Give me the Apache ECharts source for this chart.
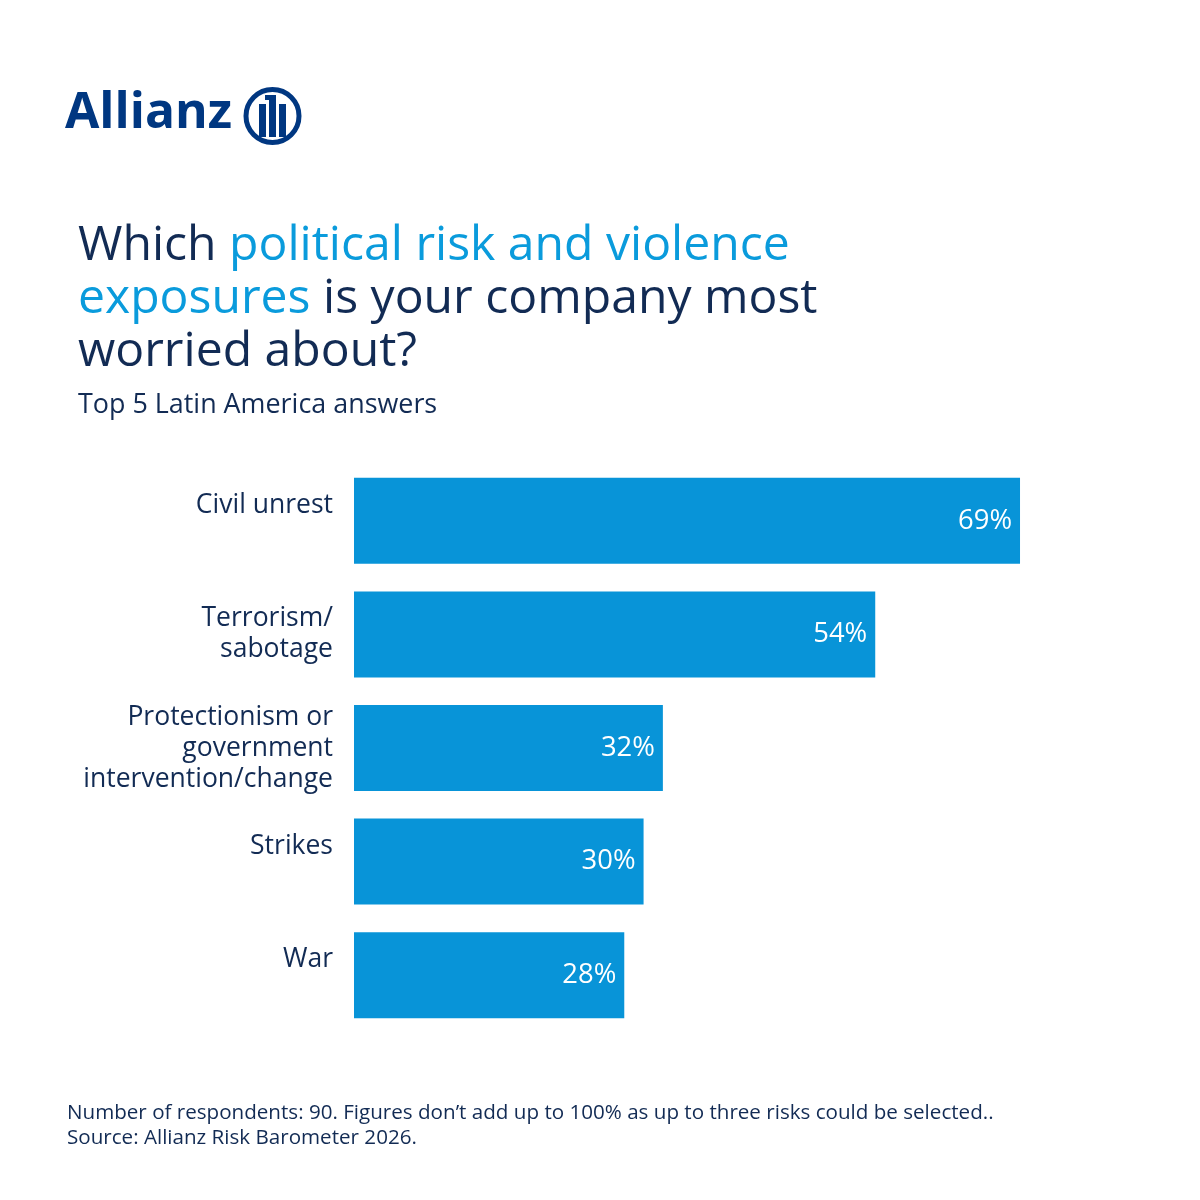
<!DOCTYPE html>
<html>
<head>
<meta charset="utf-8">
<script src="https://cdn.jsdelivr.net/npm/echarts@6/dist/echarts.min.js"></script>
<style>
html,body{margin:0;padding:0;background:#fff;}
#chart{width:1200px;height:1200px;}
</style>
</head>
<body>
<div id="chart"></div>
<script>
const categories = [
  'Civil unrest',
  'Terrorism/\nsabotage',
  'Protectionism or\ngovernment\nintervention/change',
  'Strikes',
  'War'
];
const values = [69, 54, 32, 30, 28];
const footnotes = [
  'Number of respondents: 90. Figures don\u2019t add up to 100% as up to three risks could be selected..',
  'Source: Allianz Risk Barometer 2026.'
];

const NAVY = '#122B54';
const LIGHT = '#0A9BDC';
const BAR = '#0894D8';
const LOGO = '#003781';
const FAM = '"Open Sans"';
const FONT = '"Open Sans", Lato, sans-serif';

// pick a font size so that a text's width matches the reference width
const mctx = document.createElement('canvas').getContext('2d');
function fit(text, weight, target) {
  mctx.font = weight + ' 100px ' + FAM;
  return Math.round(100 * target / mctx.measureText(text).width * 10) / 10;
}
const titleSize = fit('Which political risk and violence', 'normal', 712);
const subSize = fit('Top 5 Latin America answers', 'normal', 359);
const catSize = fit('Civil unrest', 'normal', 137);
const valSize = fit('69%', 'normal', 54);
const footSize = fit(footnotes[0], 'normal', 928);
const logoSize = fit('Allianz', 'bold', 167);

const chart = echarts.init(document.getElementById('chart'), null, {renderer: 'canvas'});

chart.setOption({
  backgroundColor: '#ffffff',
  animation: false,
  title: [
    {
      left: 78,
      top: 220,
      padding: 0,
      text: '{d|Which }{b|political risk and violence}\n{b|exposures}{d| is your company most}\n{d|worried about?}',
      textStyle: {
        fontFamily: FONT,
        fontWeight: 'normal',
        rich: {
          d: {fontSize: titleSize, fontWeight: 'normal', color: NAVY, fontFamily: FONT, lineHeight: 53},
          b: {fontSize: titleSize, fontWeight: 'normal', color: LIGHT, fontFamily: FONT, lineHeight: 53}
        }
      }
    },
    {
      left: 78,
      top: 392,
      padding: 0,
      text: 'Top 5 Latin America answers',
      textStyle: {fontFamily: FONT, fontSize: subSize, fontWeight: 'normal', color: NAVY}
    }
  ],
  grid: {left: 354, top: 464, width: 772.2, height: 568, containLabel: false},
  xAxis: {
    type: 'value', min: 0, max: 80, show: false,
    splitLine: {show: false}
  },
  yAxis: {
    type: 'category',
    data: categories,
    inverse: true,
    axisLine: {show: false},
    axisTick: {show: false},
    axisLabel: {
      margin: 21,
      fontFamily: FONT,
      fontSize: catSize,
      color: NAVY,
      lineHeight: 31,
      formatter: function (v) {
        return v.indexOf('\n') === -1 ? v + '\n ' : v;
      }
    }
  },
  series: [{
    type: 'bar',
    data: values,
    barWidth: 86,
    itemStyle: {color: BAR},
    label: {
      show: true,
      position: 'insideRight',
      distance: 8,
      color: '#ffffff',
      fontFamily: FONT,
      fontSize: valSize,
      formatter: '{c}%'
    }
  }],
  graphic: [
    {
      type: 'text', left: 65, top: 89,
      style: {text: 'Allianz', fontFamily: FONT, fontWeight: 'bold', fontSize: logoSize, fill: LOGO}
    },
    {
      type: 'circle', shape: {cx: 272.5, cy: 116, r: 26.5},
      style: {fill: 'none', stroke: LOGO, lineWidth: 5}
    },
    {type: 'rect', shape: {x: 259, y: 104, width: 7, height: 33}, style: {fill: LOGO}},
    {type: 'rect', shape: {x: 269, y: 95, width: 7, height: 42}, style: {fill: LOGO}},
    {type: 'rect', shape: {x: 265, y: 95, width: 6, height: 5}, style: {fill: LOGO}},
    {type: 'rect', shape: {x: 279, y: 104, width: 7, height: 33}, style: {fill: LOGO}},
    {
      type: 'text', left: 67, top: 1101,
      style: {text: footnotes.join('\n'), fontFamily: FONT, fontSize: footSize, lineHeight: 25, fill: NAVY}
    }
  ]
});
</script>
</body>
</html>
